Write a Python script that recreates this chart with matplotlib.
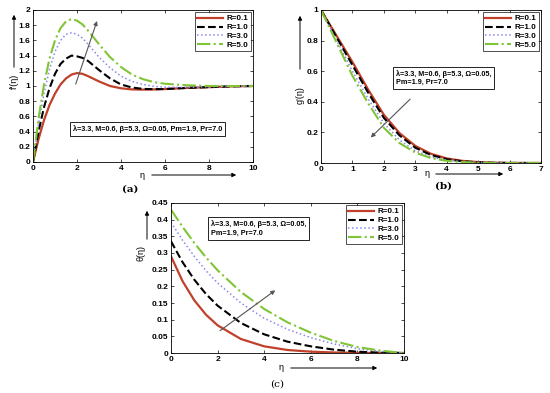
import matplotlib
matplotlib.use("Agg")
import matplotlib.pyplot as plt
import numpy as np

plt.rcParams['font.family'] = ['Liberation Sans', 'DejaVu Sans']

labels = ["R=0.1", "R=1.0", "R=3.0", "R=5.0"]
colors = ["#c0402a", "#000000", "#8888ee", "#80c535"]
styles = ["-", "--", ":", "-."]
widths = [1.6, 1.5, 1.1, 1.5]

# Panel (a): f'(eta)
eta_a = [0, 0.25, 0.5, 0.75, 1.0, 1.25, 1.5, 1.75, 2.0, 2.25, 2.5, 3.0, 3.5, 4.0, 4.5, 5.0, 5.5, 6.0, 7.0, 8.0, 9.0, 10.0]
fa = [
    [0, 0.30, 0.55, 0.75, 0.90, 1.02, 1.10, 1.15, 1.17, 1.16, 1.13, 1.06, 1.00, 0.970, 0.955, 0.952, 0.955, 0.960, 0.975, 0.985, 0.995, 1.0],
    [0, 0.40, 0.72, 0.97, 1.16, 1.29, 1.36, 1.40, 1.39, 1.37, 1.33, 1.21, 1.10, 1.02, 0.98, 0.962, 0.958, 0.960, 0.975, 0.985, 0.995, 1.0],
    [0, 0.50, 0.90, 1.22, 1.45, 1.60, 1.68, 1.70, 1.68, 1.63, 1.55, 1.38, 1.24, 1.13, 1.06, 1.02, 0.995, 0.985, 0.982, 0.990, 0.997, 1.0],
    [0, 0.57, 1.02, 1.36, 1.60, 1.76, 1.85, 1.88, 1.86, 1.81, 1.73, 1.55, 1.38, 1.25, 1.15, 1.09, 1.05, 1.03, 1.01, 1.00, 1.00, 1.0],
]

# Panel (b): g'(eta)
eta_b = [0, 0.25, 0.5, 0.75, 1.0, 1.5, 2.0, 2.5, 3.0, 3.5, 4.0, 4.5, 5.0, 5.5, 6.0, 7.0]
gb = [
    [1.0, 0.915, 0.830, 0.745, 0.660, 0.480, 0.315, 0.195, 0.112, 0.060, 0.030, 0.014, 0.006, 0.002, 0.0005, 0.0],
    [1.0, 0.910, 0.820, 0.730, 0.640, 0.460, 0.295, 0.180, 0.100, 0.052, 0.025, 0.011, 0.004, 0.0015, 0.0004, 0.0],
    [1.0, 0.900, 0.800, 0.700, 0.600, 0.420, 0.260, 0.150, 0.080, 0.040, 0.018, 0.008, 0.003, 0.001, 0.0003, 0.0],
    [1.0, 0.893, 0.785, 0.678, 0.570, 0.390, 0.230, 0.130, 0.068, 0.032, 0.014, 0.006, 0.002, 0.0008, 0.0002, 0.0],
]

# Panel (c): theta(eta)
eta_c = [0, 0.5, 1, 1.5, 2, 3, 4, 5, 6, 7, 8, 9, 10]
tc = [
    [0.290, 0.215, 0.158, 0.115, 0.083, 0.042, 0.020, 0.009, 0.004, 0.0015, 0.0005, 0.0001, 0.0],
    [0.335, 0.272, 0.220, 0.177, 0.142, 0.090, 0.056, 0.034, 0.020, 0.010, 0.004, 0.001, 0.0],
    [0.392, 0.338, 0.290, 0.247, 0.210, 0.150, 0.104, 0.071, 0.046, 0.027, 0.013, 0.005, 0.0],
    [0.430, 0.378, 0.330, 0.287, 0.248, 0.183, 0.132, 0.092, 0.061, 0.036, 0.018, 0.007, 0.0],
]

W, H = 550, 393
fig = plt.figure(figsize=(W / 100, H / 100), dpi=100)


def rect(l, t, r, b):
    return [l / W, 1 - b / H, (r - l) / W, (b - t) / H]


def fp(x, y):
    return (x / W, 1 - y / H)


def style_ax(ax):
    ax.tick_params(direction='in', top=True, right=True, labelsize=6, length=2.5, width=0.5, pad=2)
    for lab in ax.get_xticklabels() + ax.get_yticklabels():
        lab.set_fontweight('bold')
    for s in ax.spines.values():
        s.set_linewidth(0.6)


def tick_fmt(v):
    s = ("%.2f" % v).rstrip('0').rstrip('.')
    return s


def draw(ax, x, ys):
    for y, lab, c, ls, lw in zip(ys, labels, colors, styles, widths):
        ax.plot(x, y, color=c, ls=ls, lw=lw, label=lab)
    leg = ax.legend(loc='upper right', prop={'weight': 'bold', 'size': 5.8},
                    frameon=True, fancybox=False, edgecolor='black', borderpad=0.3,
                    labelspacing=0.15, handlelength=3.2, handletextpad=0.4, borderaxespad=0.3)
    leg.get_frame().set_linewidth(0.6)


params1 = "λ=3.3, M=0.6, β=5.3, Ω=0.05, Pm=1.9, Pr=7.0"
params2 = "λ=3.3, M=0.6, β=5.3, Ω=0.05,\nPm=1.9, Pr=7.0"
box = dict(boxstyle='square,pad=0.4', fc='white', ec='black', lw=0.6)
arrowprops = dict(arrowstyle='-|>', color='#555555', lw=0.8, mutation_scale=6)
axis_arrow = dict(arrowstyle='-|>', color='black', lw=0.7, mutation_scale=6)

# (a)
axa = fig.add_axes(rect(33, 10, 253, 162))
draw(axa, eta_a, fa)
axa.set_xlim(0, 10)
axa.set_ylim(0, 2)
axa.set_xticks(range(0, 11, 2))
yt = np.round(np.arange(0, 2.01, 0.2), 2)
axa.set_yticks(yt)
axa.set_yticklabels([tick_fmt(v) for v in yt])
style_ax(axa)
axa.text(0.52, 0.215, params1, transform=axa.transAxes, fontsize=5.2, fontweight='bold',
         ha='center', va='center', bbox=box)
axa.annotate('', xy=(2.95, 1.89), xytext=(1.9, 0.99), arrowprops=arrowprops)

# (b)
axb = fig.add_axes(rect(321, 10, 541, 163))
draw(axb, eta_b, gb)
axb.set_xlim(0, 7)
axb.set_ylim(0, 1)
axb.set_xticks(range(0, 8))
yt = np.round(np.arange(0, 1.01, 0.2), 2)
axb.set_yticks(yt)
axb.set_yticklabels([tick_fmt(v) for v in yt])
style_ax(axb)
axb.text(0.34, 0.555, params2, transform=axb.transAxes, fontsize=5.2, fontweight='bold',
         ha='left', va='center', bbox=box, linespacing=1.3)
axb.annotate('', xy=(1.52, 0.154), xytext=(2.9, 0.43), arrowprops=arrowprops)

# (c)
axc = fig.add_axes(rect(171, 203, 404, 353))
draw(axc, eta_c, tc)
axc.set_xlim(0, 10)
axc.set_ylim(0, 0.45)
axc.set_xticks(range(0, 11, 2))
yt = np.round(np.arange(0, 0.451, 0.05), 2)
axc.set_yticks(yt)
axc.set_yticklabels([tick_fmt(v) for v in yt])
style_ax(axc)
axc.text(0.17, 0.83, params2, transform=axc.transAxes, fontsize=5.2, fontweight='bold',
         ha='left', va='center', bbox=box, linespacing=1.3)
axc.annotate('', xy=(4.57, 0.193), xytext=(2.01, 0.062), arrowprops=arrowprops)

# Axis labels with arrows (outside the axes)
fs_lab = 6.5
# (a)
fig.text(*fp(14, 81), "f'(η)", rotation=90, ha='center', va='center', fontsize=fs_lab)
fig.add_artist(matplotlib.patches.FancyArrowPatch(fp(14, 70), fp(14, 12), transform=fig.transFigure, **axis_arrow))
fig.text(*fp(142, 175), "η", ha='center', va='center', fontsize=fs_lab)
fig.add_artist(matplotlib.patches.FancyArrowPatch(fp(149, 175), fp(239, 175), transform=fig.transFigure, **axis_arrow))
fig.text(*fp(130, 189), "(a)", ha='center', va='center', fontsize=7.5, family='DejaVu Serif', fontweight='bold')
# (b)
fig.text(*fp(300, 95), "g'(η)", rotation=90, ha='center', va='center', fontsize=fs_lab)
fig.add_artist(matplotlib.patches.FancyArrowPatch(fp(300, 72), fp(300, 13), transform=fig.transFigure, **axis_arrow))
fig.text(*fp(427, 173), "η", ha='center', va='center', fontsize=fs_lab)
fig.add_artist(matplotlib.patches.FancyArrowPatch(fp(433, 174), fp(506, 174), transform=fig.transFigure, **axis_arrow))
fig.text(*fp(443, 186), "(b)", ha='center', va='center', fontsize=7.5, family='DejaVu Serif', fontweight='bold')
# (c)
fig.text(*fp(141, 253), "θ(η)", rotation=90, ha='center', va='center', fontsize=fs_lab)
fig.add_artist(matplotlib.patches.FancyArrowPatch(fp(147, 242), fp(147, 208), transform=fig.transFigure, **axis_arrow))
fig.text(*fp(281, 368), "η", ha='center', va='center', fontsize=fs_lab)
fig.add_artist(matplotlib.patches.FancyArrowPatch(fp(288, 368), fp(380, 368), transform=fig.transFigure, **axis_arrow))
fig.text(*fp(277, 384), "(c)", ha='center', va='center', fontsize=7.5, family='DejaVu Serif')

fig.savefig("out.png", dpi=100)
